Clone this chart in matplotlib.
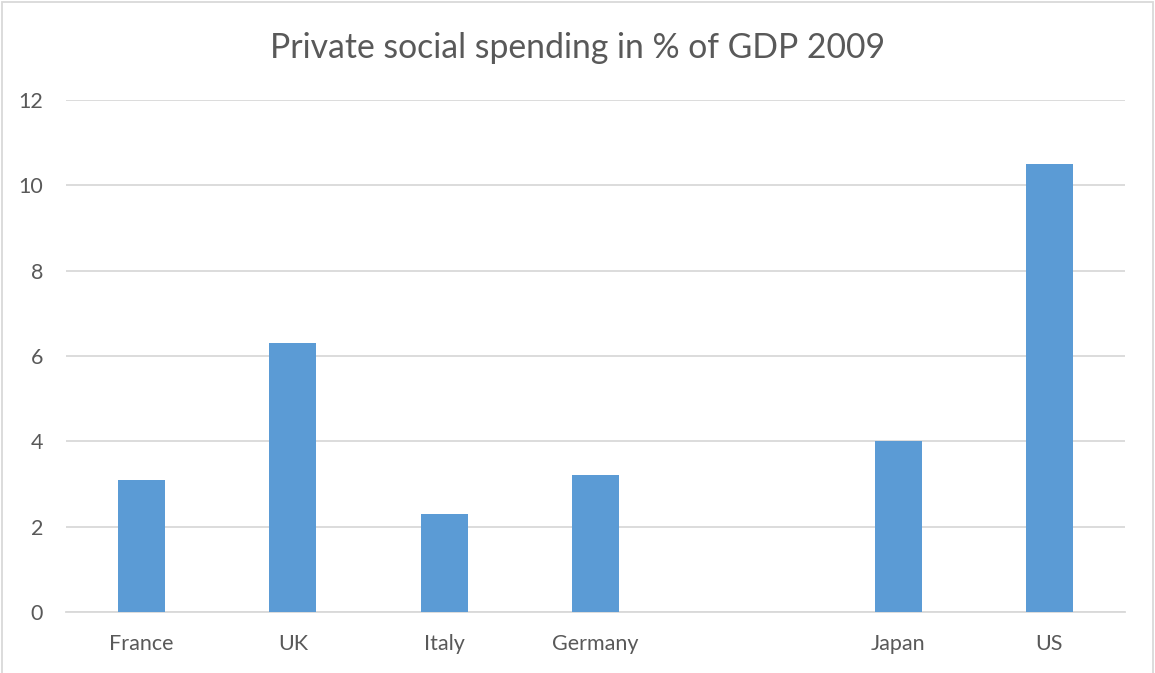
import numpy as np
import matplotlib.pyplot as plt
from matplotlib.patches import Rectangle

countries = ["France", "UK", "Italy", "Germany", "", "Japan", "US"]
spending = [3.1, 6.3, 2.3, 3.2, np.nan, 4.0, 10.5]
yticks = [0, 2, 4, 6, 8, 10, 12]

text_color = "#595959"
grid_color = "#D9D9D9"
bar_color = "#5B9BD5"

plt.rcParams["font.family"] = ["Lato", "DejaVu Sans"]

W, H = 1155, 673
fig = plt.figure(figsize=(W / 100, H / 100), dpi=100)
ax = fig.add_axes([66 / W, 61 / H, (1125 - 66) / W, (612 - 100) / H])

x = np.arange(len(countries))
ax.bar(x, spending, width=0.31, color=bar_color, zorder=3)

ax.set_xlim(-0.5, len(countries) - 0.5)
ax.set_ylim(0, 12)
ax.set_yticks(yticks)
ax.set_xticks(x)
ax.set_xticklabels(countries)
ax.yaxis.grid(True, color=grid_color, linewidth=1.3, zorder=0)
ax.tick_params(axis="both", length=0, labelsize=15.5, colors=text_color)
ax.tick_params(axis="y", pad=16.5)
ax.tick_params(axis="x", pad=15.5)
for side in ["left", "right", "top"]:
    ax.spines[side].set_visible(False)
ax.spines["bottom"].set_color(grid_color)
ax.spines["bottom"].set_linewidth(1.3)

fig.text(578 / W, 1 - 48 / H, "Private social spending in % of GDP 2009",
         ha="center", va="center", fontsize=24.3, color=text_color)

# outer chart frame
fig.patches.append(Rectangle((2 / W, -0.01), (1153 - 2) / W, 1.01 - 2 / H,
                             transform=fig.transFigure, fill=False,
                             edgecolor=grid_color, linewidth=1.3))

fig.savefig("out.png", dpi=100)
